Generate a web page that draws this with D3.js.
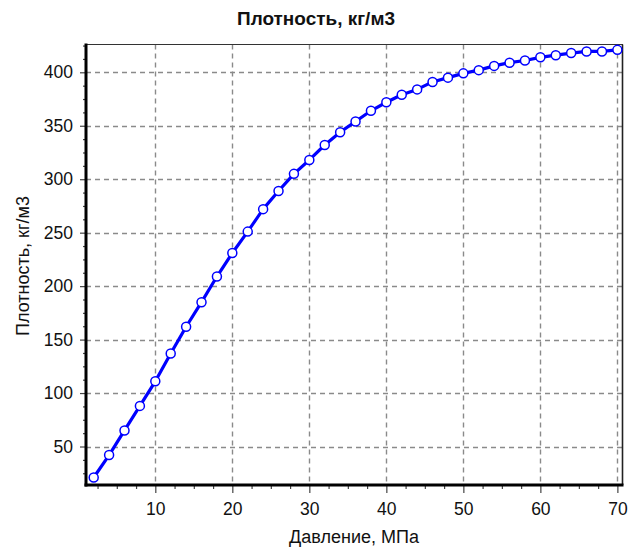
<!DOCTYPE html>
<html>
<head>
<meta charset="utf-8">
<script src="https://cdn.jsdelivr.net/npm/d3@7"></script>
<style>
  html, body { margin: 0; padding: 0; background: #fff; }
  svg { display: block; }
</style>
</head>
<body>
<svg id="chart" width="629" height="553"></svg>
<script>
// Density of the fluid versus pressure
const pressure = [2, 4, 6, 8, 10, 12, 14, 16, 18, 20, 22, 24, 26, 28, 30, 32, 34, 36,
                  38, 40, 42, 44, 46, 48, 50, 52, 54, 56, 58, 60, 62, 64, 66, 68, 70];
const density = [21, 42, 65, 88, 111, 137, 162, 185, 209, 231, 251, 272, 289, 305, 318, 332, 344, 354,
                 364, 372, 379, 384, 391, 395, 399, 402, 406, 409, 411, 414, 416, 418, 419.5, 419.5, 421];
const xTicks = [10, 20, 30, 40, 50, 60, 70];
const yTicks = [50, 100, 150, 200, 250, 300, 350, 400];
const chartTitle = "Плотность, кг/м3";
const xTitle = "Давление, МПа";
const yTitle = "Плотность, кг/м3";

const svg = d3.select("#chart");
const plotL = 86, plotR = 622, plotT = 44.5, plotB = 485;

const x = d3.scaleLinear().domain([1, 70.6]).range([plotL, plotR]);
const y = d3.scaleLinear().domain([14, 426]).range([plotB, plotT]);

const font = "'Liberation Sans', Arial, sans-serif";

// plot background
svg.append("rect").attr("x", plotL).attr("y", plotT)
  .attr("width", plotR - plotL).attr("height", plotB - plotT).attr("fill", "#fff");

// dashed grid
const grid = svg.append("g").attr("stroke", "#8a8a8a").attr("stroke-width", 1.4)
  .attr("stroke-dasharray", "5,4");
grid.selectAll("line.gx").data(xTicks).join("line")
  .attr("x1", d => Math.round(x(d)) + 0.5).attr("x2", d => Math.round(x(d)) + 0.5)
  .attr("y1", plotT).attr("y2", plotB);
grid.selectAll("line.gy").data(yTicks).join("line")
  .attr("y1", d => Math.round(y(d)) + 0.5).attr("y2", d => Math.round(y(d)) + 0.5)
  .attr("x1", plotL).attr("x2", plotR);

// frame: thin top/right, heavy left/bottom
svg.append("line").attr("x1", plotL).attr("x2", plotR + 1).attr("y1", plotT).attr("y2", plotT)
  .attr("stroke", "#333").attr("stroke-width", 1.2);
svg.append("line").attr("x1", plotR + 0.5).attr("x2", plotR + 0.5).attr("y1", plotT).attr("y2", plotB)
  .attr("stroke", "#222").attr("stroke-width", 1.6);

// axes via d3 axis generators
const xMinor = d3.range(2.5, 70.01, 2.5).filter(v => v % 10 !== 0);
const yMinor = d3.range(25, 426, 12.5).filter(v => v % 50 !== 0);

const xAxisG = svg.append("g").attr("transform", `translate(0,${plotB})`);
xAxisG.call(d3.axisBottom(x).tickValues(xMinor).tickSize(4).tickFormat(""));
xAxisG.select(".domain").remove();
const xMajorG = svg.append("g").attr("transform", `translate(0,${plotB})`);
xMajorG.call(d3.axisBottom(x).tickValues(xTicks).tickSize(8).tickPadding(10).tickFormat(d3.format("d")));
xMajorG.select(".domain").remove();

const yAxisG = svg.append("g").attr("transform", `translate(${plotL},0)`);
yAxisG.call(d3.axisLeft(y).tickValues(yMinor).tickSize(3).tickFormat(""));
yAxisG.select(".domain").remove();
const yMajorG = svg.append("g").attr("transform", `translate(${plotL},0)`);
yMajorG.call(d3.axisLeft(y).tickValues(yTicks).tickSize(6).tickPadding(7).tickFormat(d3.format("d")));
yMajorG.select(".domain").remove();

svg.selectAll(".tick line").attr("stroke", "#444").attr("stroke-width", 1.2);
svg.selectAll(".tick text").attr("fill", "#111").style("font-family", font).style("font-size", "17.5px");

// heavy left and bottom axis lines
svg.append("line").attr("x1", plotL).attr("x2", plotL).attr("y1", plotT - 1).attr("y2", plotB + 1.5)
  .attr("stroke", "#000").attr("stroke-width", 3);
svg.append("line").attr("x1", plotL - 1.5).attr("x2", plotR + 1.5).attr("y1", plotB).attr("y2", plotB)
  .attr("stroke", "#000").attr("stroke-width", 3);

// data line and markers
const line = d3.line().x((d, i) => x(pressure[i])).y(d => y(d));
svg.append("path").datum(density)
  .attr("d", line).attr("fill", "none").attr("stroke", "#0000ff")
  .attr("stroke-width", 3.2).attr("stroke-linejoin", "round");
svg.append("g").selectAll("circle").data(density).join("circle")
  .attr("cx", (d, i) => x(pressure[i])).attr("cy", d => y(d)).attr("r", 4.5)
  .attr("fill", "#fff").attr("stroke", "#0000ff").attr("stroke-width", 1.5);

// titles
svg.append("text").attr("x", 316).attr("y", 25).attr("text-anchor", "middle")
  .style("font-family", "'Liberation Sans Narrow', 'Arial Narrow', " + font)
  .style("font-weight", "bold").style("font-size", "18.5px").style("font-stretch", "condensed")
  .attr("textLength", 158).attr("lengthAdjust", "spacingAndGlyphs")
  .attr("fill", "#111").text(chartTitle);

svg.append("text").attr("x", (plotL + plotR) / 2).attr("y", 543).attr("text-anchor", "middle")
  .style("font-family", font).style("font-size", "18px").attr("fill", "#111").text(xTitle);

svg.append("text").attr("transform", `translate(29,266) rotate(-90)`).attr("text-anchor", "middle")
  .style("font-family", font).style("font-size", "18px").attr("fill", "#111").text(yTitle);
</script>
</body>
</html>
